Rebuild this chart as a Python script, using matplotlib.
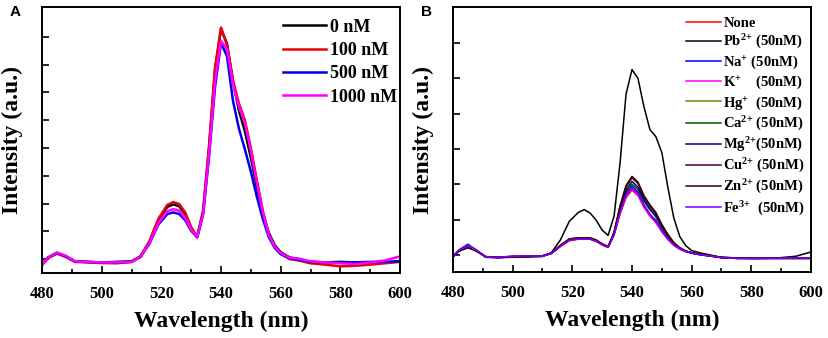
import numpy as np
import matplotlib.pyplot as plt
from matplotlib.ticker import MultipleLocator

plt.rcParams['font.family'] = 'Liberation Serif'
plt.rcParams['font.weight'] = 'bold'
plt.rcParams['axes.labelweight'] = 'bold'
plt.rcParams['mathtext.fontset'] = 'custom'
plt.rcParams['mathtext.rm'] = 'Liberation Serif:bold'
plt.rcParams['mathtext.it'] = 'Liberation Serif:bold'
plt.rcParams['mathtext.bf'] = 'Liberation Serif:bold'
plt.rcParams['mathtext.default'] = 'rm'

# wavelength grid (nm)
wl = [480, 482, 485, 488, 491, 495, 500, 505, 510, 513, 516, 519, 522, 524, 526, 528, 530, 532, 534, 536,
      538, 540, 542, 544, 546, 548, 550, 552, 554, 556, 558, 560, 563, 566, 570, 575, 580, 585, 590, 595, 600]

# Panel A - intensity (a.u.)
a_labels = ['0 nM', '100 nM', '500 nM', '1000 nM']
a_0nM = [-0.20, 0.05, 0.22, 0.10, -0.08, -0.10, -0.12, -0.10, -0.08, 0.10, 0.62, 1.40, 1.88, 1.97, 1.90, 1.62, 1.12, 0.80, 1.70, 4.00,
         6.80, 8.28, 7.75, 6.40, 5.35, 4.60, 3.65, 2.60, 1.65, 0.95, 0.50, 0.25, 0.06, 0.00, -0.10, -0.12, -0.10, -0.12, -0.15, -0.12, -0.08]
a_100nM = [-0.22, 0.03, 0.20, 0.08, -0.10, -0.12, -0.14, -0.15, -0.10, 0.08, 0.65, 1.45, 1.95, 2.05, 1.98, 1.68, 1.15, 0.80, 1.75, 4.10,
           6.90, 8.33, 7.70, 6.45, 5.60, 5.00, 4.00, 2.85, 1.75, 0.90, 0.45, 0.20, 0.00, -0.05, -0.15, -0.20, -0.26, -0.24, -0.20, -0.15, -0.10]
a_500nM = [-0.18, 0.06, 0.22, 0.10, -0.08, -0.10, -0.12, -0.12, -0.10, 0.08, 0.55, 1.25, 1.62, 1.68, 1.62, 1.40, 1.02, 0.78, 1.60, 3.70,
           6.20, 7.78, 7.30, 5.70, 4.70, 3.95, 3.15, 2.25, 1.45, 0.80, 0.40, 0.18, 0.03, -0.02, -0.10, -0.12, -0.12, -0.12, -0.10, -0.10, -0.08]
a_1000nM = [-0.20, 0.05, 0.24, 0.12, -0.08, -0.10, -0.12, -0.12, -0.10, 0.08, 0.58, 1.30, 1.72, 1.80, 1.74, 1.48, 1.06, 0.78, 1.62, 3.80,
            6.40, 7.85, 7.55, 6.30, 5.50, 4.90, 3.90, 2.75, 1.70, 0.88, 0.45, 0.22, 0.05, 0.02, -0.08, -0.12, -0.15, -0.18, -0.12, -0.05, 0.10]
a_colors = ['black', '#e8000b', '#0000e8', '#ff00ff']

# Panel B - intensity (a.u.)
b_labels = ['None',
            r'Pb$^{2{+}}$ (50nM)',
            r'Na$^{+}$ (50nM)',
            r'K$^{+}$    (50nM)',
            r'Hg$^{+}$  (50nM)',
            r'Ca$^{2{+}}$ (50nM)',
            r'Mg$^{2{+}}$(50nM)',
            r'Cu$^{2{+}}$ (50nM)',
            r'Zn$^{2{+}}$ (50nM)',
            r'Fe$^{3{+}}$  (50nM)']
b_none = [-0.05, 0.12, 0.24, 0.10, -0.06, -0.08, -0.06, -0.05, -0.04, 0.04, 0.24, 0.40, 0.44, 0.44, 0.44, 0.38, 0.28, 0.21, 0.56, 1.15,
          1.62, 1.83, 1.68, 1.35, 1.10, 0.92, 0.66, 0.44, 0.27, 0.16, 0.09, 0.05, 0.00, -0.03, -0.08, -0.10, -0.11, -0.10, -0.10, -0.10, -0.10]
b_pb = [-0.05, 0.10, 0.20, 0.10, -0.05, -0.08, -0.07, -0.06, -0.05, 0.06, 0.42, 0.95, 1.20, 1.28, 1.18, 0.98, 0.70, 0.55, 1.10, 2.60,
        4.55, 5.25, 5.00, 4.20, 3.55, 3.35, 2.90, 1.92, 1.05, 0.52, 0.26, 0.12, 0.05, 0.00, -0.08, -0.10, -0.10, -0.10, -0.08, -0.04, 0.08]
b_na = [-0.04, 0.14, 0.30, 0.13, -0.07, -0.08, -0.06, -0.05, -0.04, 0.04, 0.25, 0.42, 0.45, 0.45, 0.45, 0.39, 0.29, 0.22, 0.58, 1.22,
        1.72, 1.95, 1.78, 1.42, 1.15, 0.98, 0.70, 0.47, 0.29, 0.17, 0.10, 0.05, 0.00, -0.03, -0.08, -0.10, -0.10, -0.10, -0.09, -0.09, -0.09]
b_k = [-0.05, 0.12, 0.26, 0.12, -0.06, -0.07, -0.04, -0.03, -0.04, 0.04, 0.24, 0.41, 0.45, 0.45, 0.45, 0.39, 0.29, 0.21, 0.57, 1.18,
       1.65, 1.86, 1.70, 1.36, 1.10, 0.92, 0.65, 0.44, 0.27, 0.16, 0.09, 0.05, 0.00, -0.03, -0.08, -0.10, -0.10, -0.10, -0.10, -0.10, -0.10]
b_hg = [-0.05, 0.12, 0.26, 0.12, -0.05, -0.06, -0.05, -0.04, -0.03, 0.05, 0.27, 0.45, 0.48, 0.48, 0.48, 0.42, 0.31, 0.23, 0.64, 1.38,
        1.95, 2.22, 2.05, 1.66, 1.40, 1.18, 0.85, 0.57, 0.34, 0.20, 0.11, 0.06, 0.01, -0.02, -0.07, -0.09, -0.10, -0.10, -0.10, -0.10, -0.10]
b_ca = [-0.05, 0.11, 0.24, 0.11, -0.06, -0.07, -0.05, -0.04, -0.03, 0.04, 0.25, 0.43, 0.46, 0.46, 0.46, 0.40, 0.30, 0.22, 0.60, 1.26,
        1.77, 2.00, 1.86, 1.52, 1.28, 1.08, 0.78, 0.52, 0.31, 0.18, 0.10, 0.05, 0.00, -0.03, -0.08, -0.10, -0.10, -0.10, -0.10, -0.10, -0.10]
b_mg = [-0.05, 0.12, 0.25, 0.12, -0.06, -0.07, -0.05, -0.04, -0.03, 0.04, 0.25, 0.43, 0.46, 0.46, 0.46, 0.40, 0.30, 0.22, 0.61, 1.30,
        1.83, 2.08, 1.92, 1.56, 1.30, 1.10, 0.79, 0.53, 0.32, 0.19, 0.10, 0.05, 0.00, -0.03, -0.08, -0.10, -0.10, -0.10, -0.10, -0.10, -0.10]
b_cu = [-0.06, 0.11, 0.24, 0.11, -0.06, -0.07, -0.05, -0.04, -0.03, 0.05, 0.26, 0.44, 0.47, 0.47, 0.47, 0.41, 0.30, 0.22, 0.63, 1.35,
        1.92, 2.18, 2.02, 1.64, 1.38, 1.16, 0.83, 0.56, 0.33, 0.19, 0.11, 0.06, 0.01, -0.02, -0.07, -0.09, -0.10, -0.10, -0.10, -0.10, -0.10]
b_zn = [-0.06, 0.10, 0.23, 0.10, -0.07, -0.08, -0.06, -0.05, -0.03, 0.05, 0.27, 0.45, 0.48, 0.48, 0.48, 0.42, 0.31, 0.23, 0.64, 1.38,
        1.96, 2.22, 2.06, 1.68, 1.42, 1.20, 0.86, 0.58, 0.35, 0.20, 0.11, 0.06, 0.01, -0.02, -0.07, -0.09, -0.10, -0.10, -0.10, -0.10, -0.10]
b_fe = [-0.05, 0.12, 0.26, 0.12, -0.06, -0.07, -0.04, -0.03, -0.04, 0.04, 0.24, 0.41, 0.45, 0.45, 0.45, 0.39, 0.29, 0.21, 0.58, 1.20,
        1.68, 1.90, 1.74, 1.40, 1.14, 0.95, 0.68, 0.46, 0.28, 0.17, 0.10, 0.05, 0.00, -0.03, -0.08, -0.10, -0.10, -0.10, -0.10, -0.09, -0.09]
b_colors = ['#ff0000', 'black', '#0000ff', '#ff00ff', '#808000', '#005a00', '#000080', '#400040', '#3c0000', '#8000ff']


def style_axes(ax, ymin, ymax, ytop):
    ax.set_xlim(480, 600)
    ax.set_ylim(ymin, ymax)
    ax.xaxis.set_major_locator(MultipleLocator(20))
    ax.xaxis.set_minor_locator(MultipleLocator(10))
    ax.set_yticks(np.arange(0, ytop + 1, 1))
    ax.set_yticklabels([])
    ax.tick_params(axis='both', which='both', direction='in', width=1.2)
    ax.tick_params(axis='both', which='major', length=5, labelsize=12, pad=9)
    ax.tick_params(axis='both', which='minor', length=3)
    for lbl in ax.get_xticklabels():
        lbl.set_fontweight('bold')
    for s in ax.spines.values():
        s.set_linewidth(1.4)
    ax.set_xlabel('Wavelength (nm)', fontsize=17, fontweight='bold', labelpad=7)
    ax.set_ylabel('Intensity (a.u.)', fontsize=17, fontweight='bold', labelpad=5)


fig = plt.figure(figsize=(8.29, 3.38), dpi=100)

# panel A
ax1 = fig.add_axes([0.0507, 0.1923, 0.4318, 0.787])
a_series = [a_0nM, a_100nM, a_500nM, a_1000nM]
for ys, lab, c in zip(a_series, a_labels, a_colors):
    ax1.plot(wl, ys, color=c, lw=1.8, label=lab)
style_axes(ax1, -0.5, 9.07, 8)
ax1.legend(loc='upper right', bbox_to_anchor=(1.025, 1.0), frameon=False, handlelength=2.4,
           handletextpad=0.2, labelspacing=0.35, borderaxespad=0.25,
           prop={'weight': 'bold', 'size': 13})

# panel B
ax2 = fig.add_axes([0.5464, 0.195, 0.4319, 0.784])
b_series = [b_none, b_pb, b_na, b_k, b_hg, b_ca, b_mg, b_cu, b_zn, b_fe]
for ys, lab, c in zip(b_series, b_labels, b_colors):
    ax2.plot(wl, ys, color=c, lw=1.1, label=lab)
style_axes(ax2, -0.49, 7.02, 6)
ax2.legend(loc='upper right', bbox_to_anchor=(1.01, 1.0), frameon=False, handlelength=2.4,
           handletextpad=0.15, labelspacing=0.2, borderaxespad=0.25,
           prop={'weight': 'bold', 'size': 10.5})

fig.text(0.012, 0.985, 'A', fontsize=11, fontweight='bold', family='Liberation Sans', va='top')
fig.text(0.508, 0.985, 'B', fontsize=11, fontweight='bold', family='Liberation Sans', va='top')

fig.savefig('out.png', dpi=100)
